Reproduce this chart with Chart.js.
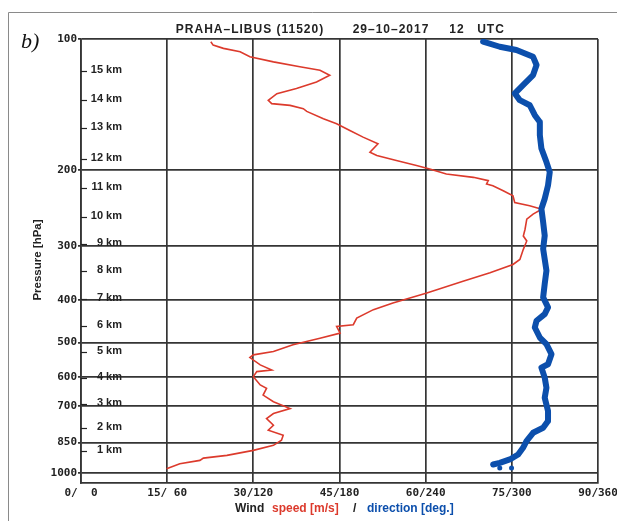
<!DOCTYPE html>
<html>
<head>
<meta charset="utf-8">
<script src="https://cdn.jsdelivr.net/npm/chart.js@4.4.1/dist/chart.umd.min.js"></script>
<style>
html,body{margin:0;padding:0;background:#fff;}
#wrap{width:617px;height:521px;}
</style>
</head>
<body>
<div id="wrap"><canvas id="c" width="617" height="521"></canvas></div>
<script>
// ---- data ----
const pressureTicks = [100, 200, 300, 400, 500, 600, 700, 850, 1000];
const xTickValues = [0, 15, 30, 45, 60, 75, 90];
const xTickLabels = ['0/  0', '15/ 60', '30/120', '45/180', '60/240', '75/300', '90/360'];

const kmLabels = ['15 km','14 km','13 km','12 km','11 km','10 km','9 km','8 km','7 km','6 km','5 km','4 km','3 km','2 km','1 km'];
const kmHpa = [118.6,138.3,160.5,189.3,220.9,256.4,296.0,341.7,396.6,457.8,525.7,603.7,693.3,787.6,890.2];

// wind speed [m/s] vs pressure [hPa]
const speedMs = [22.6,23.0,24.8,27.7,29.4,33.5,38.1,41.6,43.3,41.0,
  37.5,34.1,32.6,33.2,36.4,38.7,39.3,42.2,44.5,46.8,
  49.1,51.7,50.3,51.5,54.9,58.4,60.7,63.6,68.3,70.9,
  70.6,71.7,73.5,75.2,75.5,78.1,80.2,78.7,77.6,77.3,
  77.0,77.6,77.0,76.4,75.2,71.2,66.5,60.2,54.3,50.9,
  48.0,47.4,44.5,45.1,41.6,36.9,33.5,30.0,29.4,31.2,
  33.2,30.6,30.0,31.2,32.3,31.7,33.5,36.4,33.5,32.3,
  33.5,32.6,35.2,34.9,33.5,30.0,25.4,21.3,20.7,17.2,14.9];
const speedHpa = [101.5,103.3,105.1,107.0,109.9,112.9,115.9,118.0,121.2,125.6,
  130.1,133.6,138.4,140.9,142.2,144.7,146.8,152.6,156.7,162.4,
  168.3,174.4,182.4,185.6,190.6,195.7,199.2,204.6,208.3,212.0,
  215.8,217.8,223.6,229.7,238.1,242.3,246.6,253.2,260.1,274.3,
  284.3,291.9,305.2,321.9,330.6,345.7,361.4,384.6,405.6,420.2,
  439.4,455.2,459.3,476.0,488.9,506.4,524.8,534.1,541.8,563.4,
  578.6,583.8,599.6,626.7,638.2,661.1,685.1,710.1,729.2,748.9,
  775.7,796.7,818.2,840.3,863.0,886.4,910.3,923.5,934.9,952.0,977.7];

// wind direction [deg] vs pressure [hPa]
const dirDeg = [280.0,291.6,303.2,314.8,317.2,314.8,307.8,302.1,305.5,312.5,
  316.0,319.5,319.5,320.6,324.1,326.4,325.2,322.9,320.6,321.8,
  322.9,321.8,324.1,322.9,321.8,325.2,322.9,317.2,316.0,319.5,
  324.1,327.6,325.2,320.6,322.9,324.1,322.9,325.2,325.2,321.8,
  314.8,310.2,307.8,304.4,298.6,291.6,287.0];
const dirHpa = [101.4,104.2,106.0,109.9,114.8,121.1,127.7,133.5,138.3,142.1,
  149.8,155.3,166.6,178.8,192.1,202.6,217.4,233.3,246.1,264.3,
  283.7,304.4,341.7,366.7,393.8,415.3,430.2,445.8,462.0,487.2,
  504.6,532.2,561.3,571.5,602.7,635.6,670.4,719.5,758.8,786.3,
  807.5,844.0,874.6,905.9,930.3,947.3,955.4];
const dotDeg = [291.6, 299.8];
const dotHpa = [972.8, 972.8];

// ---- build points ----
const speedPts = speedMs.map((v, i) => ({x: v, y: speedHpa[i]}));
const dirPts = dirDeg.map((v, i) => ({x: v, y: dirHpa[i]}));
const dotPts = dotDeg.map((v, i) => ({x: v, y: dotHpa[i]}));

const GRID = '#353535';
const TXT = '#222';
const FONT = '"Liberation Sans", Arial, sans-serif';
const MONO = '"DejaVu Sans Mono", "Liberation Mono", monospace';
const RED = '#dc3a2c';
const BLUE = '#0c4fac';

const decor = {
  id: 'decor',
  afterDraw(chart) {
    const c = chart.ctx;
    const a = chart.chartArea;
    const y = chart.scales.y;
    c.save();
    // outer frame
    c.strokeStyle = '#8a8a8a';
    c.lineWidth = 1;
    c.beginPath();
    c.moveTo(8.5, 521); c.lineTo(8.5, 12.5); c.lineTo(617, 12.5);
    c.stroke();
    // panel letter
    c.fillStyle = '#111';
    c.font = 'italic 22px "Liberation Serif", "DejaVu Serif", serif';
    c.textAlign = 'left'; c.textBaseline = 'alphabetic';
    c.fillText('b)', 21, 48);
    // title
    c.fillStyle = TXT;
    c.font = 'bold 12px ' + FONT;
    c.textAlign = 'center';
    try { c.letterSpacing = '1px'; } catch (e) {}
    c.fillText('PRAHA\u2013LIBUS (11520)', 250, 33);
    c.fillText('29\u201310\u20132017', 391, 33);
    c.fillText('12', 457, 33);
    c.fillText('UTC', 491, 33);
    try { c.letterSpacing = '0px'; } catch (e) {}
    // km labels
    c.font = 'bold 11px ' + FONT;
    c.strokeStyle = '#222';
    c.lineWidth = 1.2;
    kmLabels.forEach((t, i) => {
      const py = Math.round(y.getPixelForValue(kmHpa[i])) + 0.5;
      c.beginPath(); c.moveTo(a.left, py); c.lineTo(a.left + 6, py); c.stroke();
      c.textAlign = 'right';
      c.fillText(t, a.left + 41, py + 1);
    });
    // y-axis title
    c.save();
    c.translate(38, 260);
    c.rotate(-Math.PI / 2);
    c.font = 'bold 11.5px ' + FONT;
    c.textAlign = 'center'; c.textBaseline = 'middle';
    c.fillText('Pressure [hPa]', 0, 0);
    c.restore();
    // x legend
    c.font = 'bold 12px ' + FONT;
    c.textAlign = 'left'; c.textBaseline = 'alphabetic';
    const parts = [['Wind', TXT, 235], ['speed [m/s]', RED, 272], ['/', TXT, 353], ['direction [deg.]', BLUE, 367]];
    parts.forEach(([t, col, px]) => {
      c.fillStyle = col;
      c.fillText(t, px, 512);
    });
    c.restore();
  }
};

new Chart(document.getElementById('c'), {
  type: 'scatter',
  data: {
    datasets: [
      {label: 'direction', data: dirPts, xAxisID: 'xd', yAxisID: 'y', showLine: true,
       borderColor: BLUE, borderWidth: 6, pointRadius: 0, borderJoinStyle: 'round', borderCapStyle: 'round', tension: 0},
      {label: 'dirDots', data: dotPts, xAxisID: 'xd', yAxisID: 'y', showLine: false,
       pointRadius: 2.5, backgroundColor: BLUE, borderWidth: 0},
      {label: 'speed', data: speedPts, xAxisID: 'x', yAxisID: 'y', showLine: true,
       borderColor: RED, borderWidth: 1.6, pointRadius: 0, tension: 0}
    ]
  },
  options: {
    responsive: false,
    animation: false,
    events: [],
    layout: {padding: {left: 0, right: 19, top: 39, bottom: 0}},
    plugins: {legend: {display: false}, tooltip: {enabled: false}, title: {display: false}},
    scales: {
      x: {
        type: 'linear', position: 'bottom', min: 0, max: 90,
        afterBuildTicks: s => { s.ticks = xTickValues.map(v => ({value: v})); },
        ticks: {
          autoSkip: false, maxRotation: 0, padding: 4, color: TXT,
          font: {family: MONO, size: 11, weight: 'bold'},
          callback: (v) => xTickLabels[xTickValues.indexOf(v)]
        },
        grid: {color: GRID, lineWidth: 1.7, drawTicks: false},
        border: {color: GRID, width: 1.7},
        afterFit: s => { s.height = 38; s.paddingLeft = 0; s.paddingRight = 0; }
      },
      xd: {type: 'linear', min: 0, max: 360, display: false},
      y: {
        type: 'logarithmic', position: 'left', reverse: true, min: 100, max: 1054,
        afterBuildTicks: s => { s.ticks = pressureTicks.map(v => ({value: v})); },
        ticks: {
          autoSkip: false, padding: 1, color: TXT,
          font: {family: MONO, size: 11, weight: 'bold'},
          callback: v => String(v)
        },
        grid: {color: GRID, lineWidth: 1.7, tickLength: 3},
        border: {color: GRID, width: 1.7},
        afterFit: s => { s.width = 81; s.paddingTop = 0; s.paddingBottom = 0; }
      }
    }
  },
  plugins: [decor]
});
</script>
</body>
</html>
